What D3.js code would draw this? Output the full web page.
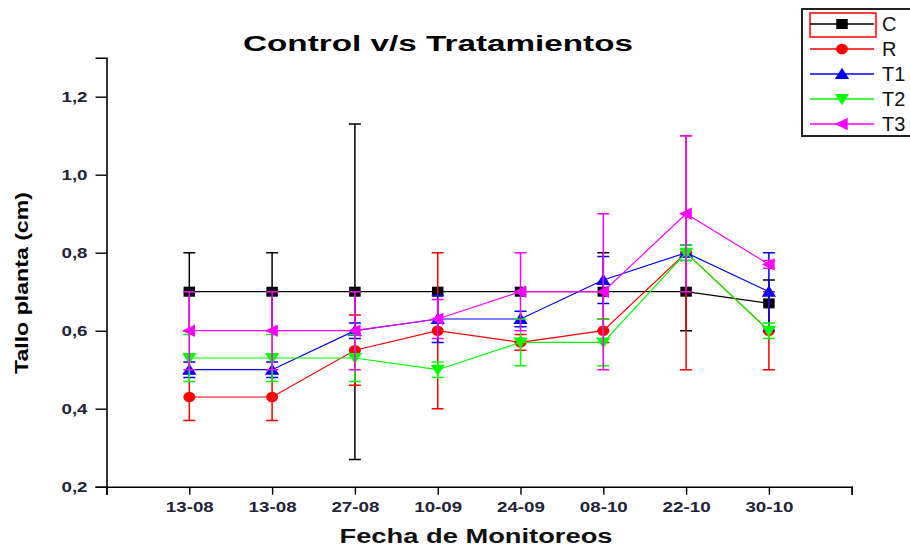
<!DOCTYPE html>
<html>
<head>
<meta charset="utf-8">
<script src="https://cdn.jsdelivr.net/npm/d3@7"></script>
<style>
  body { margin: 0; background: #fff; }
  text { font-family: "Liberation Sans", Arial, sans-serif; }
</style>
</head>
<body>
<svg id="chart"></svg>
<script>
// fechas de monitoreo
var categories = ["13-08", "13-08", "27-08", "10-09", "24-09", "08-10", "22-10", "30-10"];

var seriesNames = ["C", "R", "T1", "T2", "T3"];
var C  = [0.70, 0.70, 0.70, 0.70, 0.70, 0.70, 0.70, 0.67];
var R  = [0.43, 0.43, 0.55, 0.60, 0.57, 0.60, 0.80, 0.60];
var T1 = [0.50, 0.50, 0.60, 0.63, 0.63, 0.73, 0.80, 0.70];
var T2 = [0.53, 0.53, 0.53, 0.50, 0.57, 0.57, 0.80, 0.60];
var T3 = [0.60, 0.60, 0.60, 0.63, 0.70, 0.70, 0.90, 0.77];

// desviaciones (barras de error)
var C_err  = [0.10, 0.10, 0.43, 0.00, 0.00, 0.10, 0.10, 0.06];
var R_err  = [0.06, 0.06, 0.09, 0.20, 0.02, 0.03, 0.30, 0.10];
var T1_err = [0.02, 0.02, 0.02, 0.06, 0.02, 0.06, 0.02, 0.10];
var T2_err = [0.06, 0.06, 0.06, 0.02, 0.06, 0.06, 0.02, 0.02];
var T3_err = [0.10, 0.10, 0.10, 0.05, 0.10, 0.20, 0.20, 0.01];

var yTicks = [0.2, 0.4, 0.6, 0.8, 1.0, 1.2];

var width = 910, height = 547;
var svg = d3.select("#chart").attr("width", width).attr("height", height);

var x = d3.scaleLinear().domain([0, categories.length + 1]).range([106.5, 851.7]);
var y = d3.scaleLinear().domain([0.2, 1.3]).range([486.7, 57.7]);

var colors = ["#000000", "#ff0000", "#0000ff", "#00ff00", "#ff00ff"];
var values = [C, R, T1, T2, T3];
var errs = [C_err, R_err, T1_err, T2_err, T3_err];

var tickColor = "#23233a";

// eje X
var xMajor = d3.range(0, categories.length + 2);
var xMinor = d3.range(0, categories.length + 1).map(d => d + 0.5);
var gx = svg.append("g").attr("transform", "translate(0," + y(0.2) + ")");
gx.call(d3.axisBottom(x).tickValues(xMinor).tickSize(5).tickFormat(""));
gx.call(d3.axisBottom(x).tickValues(xMajor).tickSize(8).tickPadding(7)
  .tickFormat(d => (d >= 1 && d <= categories.length) ? categories[d - 1] : ""));
gx.selectAll("path.domain").attr("stroke-width", 1.6);
gx.selectAll(".tick text").filter(function() { return this.textContent != ""; })
  .attr("textLength", 48).attr("lengthAdjust", "spacingAndGlyphs");

// eje Y
var yMinor = [0.3, 0.5, 0.7, 0.9, 1.1, 1.3];
var gy = svg.append("g").attr("transform", "translate(" + x(0) + ",0)");
gy.call(d3.axisLeft(y).tickValues(yMinor).tickSize(5).tickFormat(""));
gy.call(d3.axisLeft(y).tickValues(yTicks).tickSize(11).tickPadding(8)
  .tickFormat(d => d3.format(".1f")(d).replace(".", ",")));
gy.selectAll("path.domain").attr("stroke-width", 1.6);
gy.selectAll(".tick text").filter(function() { return this.textContent != ""; })
  .attr("textLength", 26).attr("lengthAdjust", "spacingAndGlyphs");

svg.selectAll(".tick line").attr("stroke", "#000").attr("stroke-width", 1.4);
svg.selectAll(".tick text").attr("fill", tickColor)
  .attr("font-size", 14).attr("font-weight", "bold")
  .style("font-family", "'Liberation Sans', Arial, sans-serif");
svg.selectAll("path.domain").attr("stroke", "#000");

// marcadores
function markerPath(i, size) {
  if (i == 0) return d3.symbol(d3.symbolSquare, size * size)();
  if (i == 1) return d3.symbol(d3.symbolCircle, size * size * 0.85)();
  var s = size * 0.62;
  if (i == 2) return "M0," + (-s) + "L" + s + "," + (s * 0.8) + "L" + (-s) + "," + (s * 0.8) + "Z";
  if (i == 3) return "M0," + s + "L" + s + "," + (-s * 0.8) + "L" + (-s) + "," + (-s * 0.8) + "Z";
  return "M" + (-s) + ",0L" + (s * 0.8) + "," + (-s) + "L" + (s * 0.8) + "," + s + "Z";
}

var line = d3.line().x((d, i) => x(i + 1)).y(d => y(d));

values.forEach(function(vals, si) {
  var g = svg.append("g");
  var col = colors[si];
  var e = errs[si];

  g.selectAll(".err").data(vals).enter().append("path")
    .attr("fill", "none").attr("stroke", col).attr("stroke-width", 1.5)
    .attr("d", function(d, i) {
      if (!e[i]) return "";
      var cx = x(i + 1), y1 = y(d + e[i]), y0 = y(d - e[i]);
      return "M" + (cx - 6) + "," + y1 + "H" + (cx + 6) + "M" + cx + "," + y1 + "V" + y0 +
        "M" + (cx - 6) + "," + y0 + "H" + (cx + 6);
    });

  g.append("path").datum(vals)
    .attr("fill", "none").attr("stroke", col).attr("stroke-width", 1.2)
    .attr("d", line);

  g.selectAll(".pt").data(vals).enter().append("path")
    .attr("fill", col)
    .attr("transform", (d, i) => "translate(" + x(i + 1) + "," + y(d) + ") scale(1.15,1)")
    .attr("d", markerPath(si, 10));
});

// titulo y etiquetas
svg.append("text").attr("x", 438).attr("y", 51).attr("text-anchor", "middle")
  .attr("font-size", 22).attr("font-weight", "bold").attr("fill", "#000")
  .attr("textLength", 390).attr("lengthAdjust", "spacingAndGlyphs")
  .text("Control v/s Tratamientos");

svg.append("text").attr("transform", "translate(28,283) rotate(-90)")
  .attr("text-anchor", "middle").attr("font-size", 18).attr("font-weight", "bold")
  .attr("textLength", 182).attr("lengthAdjust", "spacingAndGlyphs")
  .text("Tallo planta (cm)");

svg.append("text").attr("x", 476).attr("y", 543).attr("text-anchor", "middle")
  .attr("font-size", 20).attr("font-weight", "bold").attr("fill", "#111")
  .attr("textLength", 273).attr("lengthAdjust", "spacingAndGlyphs")
  .text("Fecha de Monitoreos");

// leyenda
var lg = svg.append("g");
lg.append("rect").attr("x", 802).attr("y", 9).attr("width", 130).attr("height", 127)
  .attr("fill", "#fff").attr("stroke", "#222").attr("stroke-width", 2);
lg.append("rect").attr("x", 810).attr("y", 13).attr("width", 66).attr("height", 24)
  .attr("fill", "none").attr("stroke", "#ff0000").attr("stroke-width", 1.5);

seriesNames.forEach(function(name, i) {
  var ly = 24 + i * 25;
  lg.append("line").attr("x1", 810).attr("x2", 874).attr("y1", ly).attr("y2", ly)
    .attr("stroke", colors[i]).attr("stroke-width", 1.5);
  lg.append("path").attr("fill", colors[i])
    .attr("transform", "translate(842," + ly + ") scale(1.15,1)")
    .attr("d", markerPath(i, 10));
  lg.append("text").attr("x", 882).attr("y", ly + 7)
    .attr("font-size", 20).attr("fill", "#111")
    .text(name);
});
</script>
</body>
</html>
